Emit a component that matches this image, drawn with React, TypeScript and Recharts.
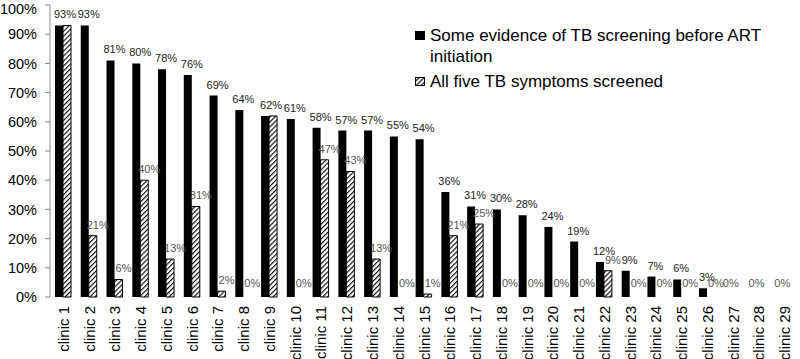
import { BarChart, Bar, XAxis, YAxis, Legend, LabelList, Rectangle } from "recharts";

const clinics = Array.from({ length: 29 }, (_, i) => `clinic ${i + 1}`);

const someEvidence = [
  93, 93, 81, 80, 78, 76, 69, 64, 62, 61, 58, 57, 57, 55, 54, 36, 31, 30, 28,
  24, 19, 12, 9, 7, 6, 3, 0, 0, 0,
];

const allFive = [
  93, 21, 6, 40, 13, 31, 2, 0, 62, 0, 47, 43, 13, 0, 1, 21, 25, 0, 0, 0, 0, 9,
  0, 0, 0, 0, 0, 0, 0,
];

const yTicks = [0, 10, 20, 30, 40, 50, 60, 70, 80, 90, 100];
const boundaryTicks = Array.from({ length: 30 }, (_, i) => i);

const data = clinics.map((name, i) => ({
  name,
  evidence: someEvidence[i],
  symptoms: allFive[i],
}));

const FONT = "'Liberation Sans', Arial, sans-serif";
const AXIS = "#8c8c8c";

function ClinicTick(props: any) {
  const { x, y, payload } = props;
  return (
    <g transform={`translate(${x},${y})`}>
      <text
        transform="rotate(-90)"
        x={-9}
        y={0}
        dy={6}
        textAnchor="end"
        fontSize={15}
        fontFamily={FONT}
        fill="#000"
      >
        {payload.value}
      </text>
    </g>
  );
}

function EvidenceLabel(props: any) {
  const { x, y, width, value, index } = props;
  // same value as the hatched bar -> only one label is shown (drawn by the hatched series)
  if (!value || value === allFive[index]) return null;
  return (
    <text
      x={x + width / 2 + 4}
      y={y - 7}
      textAnchor="middle"
      fontSize={11}
      fontFamily={FONT}
      fill="#222"
    >
      {`${value}%`}
    </text>
  );
}

function SymptomLabel(props: any) {
  const { x, y, width, value, index } = props;
  const bothZero = value === 0 && someEvidence[index] === 0;
  const same = value > 0 && value === someEvidence[index];
  let cx = x + width / 2 + 5;
  if (bothZero) cx = x - 2;
  if (same) cx = x + 2;
  return (
    <text
      x={cx}
      y={y - (value ? 7 : 10)}
      textAnchor="middle"
      fontSize={11}
      fontFamily={FONT}
      fill={same ? "#222" : "#555"}
    >
      {`${value}%`}
    </text>
  );
}

function HatchShape(props: any) {
  if (!props.payload || props.payload.symptoms <= 0) return <g />;
  return <Rectangle {...props} />;
}

function LegendBox() {
  return (
    <div style={{ fontFamily: FONT, fontSize: 17, color: "#000", width: 380, lineHeight: "21px" }}>
      <div style={{ display: "flex", alignItems: "flex-start" }}>
        <svg width={13} height={21} style={{ flex: "none" }}>
          <rect x={0} y={6} width={10} height={9} fill="#000" />
        </svg>
        <span style={{ marginLeft: 2 }}>
          Some evidence of TB screening before ART
          <br />
          initiation
        </span>
      </div>
      <div style={{ display: "flex", alignItems: "flex-start", marginTop: 4 }}>
        <svg width={13} height={21} style={{ flex: "none" }}>
          <rect x={0.5} y={6.5} width={9} height={8} fill="url(#hatch)" stroke="#000" />
        </svg>
        <span style={{ marginLeft: 2 }}>All five TB symptoms screened</span>
      </div>
    </div>
  );
}

export default function App() {
  return (
    <div style={{ position: "absolute", left: 0, top: 0, width: 800, height: 359 }}>
      <BarChart
        width={800}
        height={359}
        data={data}
        margin={{ top: 5, right: 3, left: 0, bottom: 0 }}
        barSize={8}
        barGap={0}
      >
        <defs>
          <pattern
            id="hatch"
            patternUnits="userSpaceOnUse"
            width={3.5}
            height={3.5}
            patternTransform="rotate(45)"
          >
            <rect width={3.5} height={3.5} fill="#fff" />
            <line x1={0} y1={0} x2={0} y2={3.5} stroke="#000" strokeWidth={2.2} />
          </pattern>
        </defs>
        <XAxis
          xAxisId="edges"
          type="number"
          domain={[0, 29]}
          ticks={boundaryTicks}
          tick={false}
          height={0}
          tickSize={5}
          axisLine={{ stroke: AXIS }}
          tickLine={{ stroke: AXIS }}
        />
        <XAxis
          xAxisId="cat"
          dataKey="name"
          interval={0}
          height={62}
          tickSize={0}
          tickMargin={0}
          axisLine={false}
          tickLine={false}
          tick={<ClinicTick />}
        />
        <YAxis
          domain={[0, 100]}
          ticks={yTicks}
          width={50}
          tickSize={5}
          tickFormatter={(v: number) => `${v}%`}
          axisLine={{ stroke: AXIS }}
          tickLine={{ stroke: AXIS }}
          tick={{ fontSize: 14.5, fill: "#000", fontFamily: FONT, dx: -6 }}
        />
        <Legend
          layout="vertical"
          align="center"
          verticalAlign="middle"
          content={<LegendBox />}
          wrapperStyle={{ position: "absolute", left: 415, top: 25, width: 380 }}
        />
        <Bar xAxisId="cat" dataKey="evidence" fill="#000" isAnimationActive={false}>
          <LabelList dataKey="evidence" content={<EvidenceLabel />} />
        </Bar>
        <Bar
          xAxisId="cat"
          dataKey="symptoms"
          fill="url(#hatch)"
          stroke="#000"
          strokeWidth={1}
          minPointSize={(v: number) => (v === 0 ? 0.5 : 0)}
          shape={<HatchShape />}
          isAnimationActive={false}
        >
          <LabelList dataKey="symptoms" content={<SymptomLabel />} />
        </Bar>
      </BarChart>
    </div>
  );
}
